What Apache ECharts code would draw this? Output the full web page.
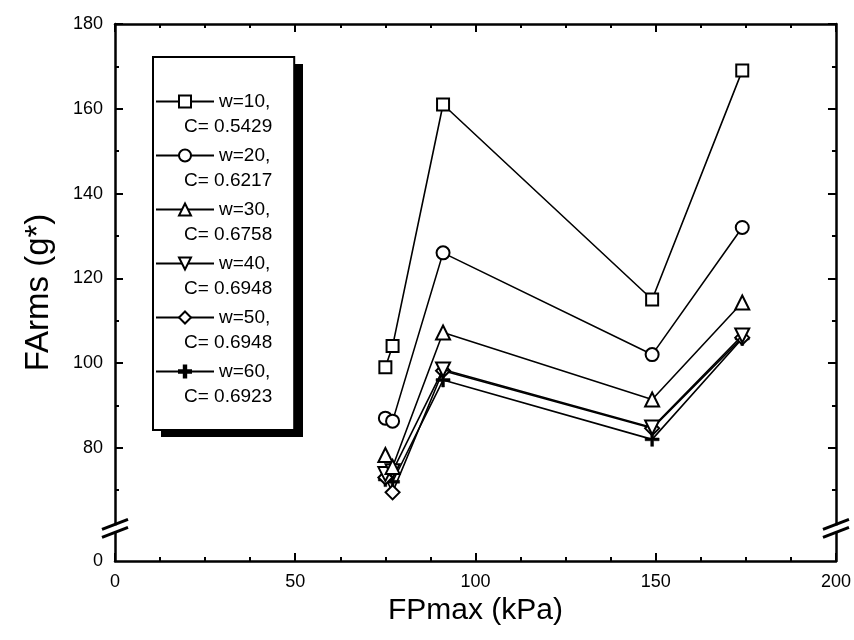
<!DOCTYPE html>
<html>
<head>
<meta charset="utf-8">
<script src="https://cdn.jsdelivr.net/npm/echarts@6/dist/echarts.min.js"></script>
<style>
  html, body { margin: 0; padding: 0; background: #fff; }
  #chart { width: 854px; height: 640px; }
</style>
</head>
<body>
<div id="chart"></div>
<script>
// FPmax (kPa) values shared by every series
const fpMax = [75, 77, 91, 149, 174];

// FArms (g*) for each window size w
const w10 = [99, 104, 161, 115, 169];
const w20 = [87, 86.3, 126, 102, 132];
const w30 = [78.3, 75.5, 107.2, 91.4, 114.3];
const w40 = [73.8, 74.5, 98.5, 84.8, 106.5];
const w50 = [73, 69.5, 98.2, 84.6, 106];
const w60 = [72.5, 72, 96, 82, 105.8];

const windows = [10, 20, 30, 40, 50, 60];
const coeffs = ['0.5429', '0.6217', '0.6758', '0.6948', '0.6948', '0.6923'];
const seriesValues = [w10, w20, w30, w40, w50, w60];

// broken y axis: the bottom of the axis stands for 0
const yFloor = 53.3;
const yBreakAt = 61;
const yLabelTicks = [yFloor, 80, 100, 120, 140, 160, 180];
const yMajorTicks = [80, 100, 120, 140, 160, 180];
const yMinorTicks = [70, 90, 110, 130, 150, 170];

const FONT = '"Liberation Sans", Arial, Helvetica, sans-serif';
const PLUS = 'path://M4,0h2v4h4v2h-4v4h-2v-4h-4v-2h4z';
const symbols = ['rect', 'circle', 'triangle', 'triangle', 'diamond', PLUS];
const rotations = [0, 0, 0, 180, 0, 0];
const sizes = [12, 13, 14, 14, 14, 14];

const chart = echarts.init(document.getElementById('chart'), null, { renderer: 'canvas' });

const series = windows.map((w, i) => ({
  name: 'w=' + w + ',',
  type: 'line',
  xAxisIndex: 0,
  yAxisIndex: 0,
  data: fpMax.map((x, j) => [x, seriesValues[i][j]]),
  symbol: symbols[i],
  symbolRotate: rotations[i],
  symbolSize: sizes[i],
  showAllSymbol: true,
  lineStyle: { color: '#000', width: 1.6 },
  itemStyle: i === 5
    ? { color: '#000', borderColor: '#000', borderWidth: 0.5 }
    : { color: '#fff', borderColor: '#000', borderWidth: 2 },
  emphasis: { disabled: true },
  z: 10 - i
}));

const axisLine = { show: true, lineStyle: { color: '#000', width: 2.5 } };
const tickStyle = { color: '#000', width: 2 };

function yAxisDef(position, ticks, length, showLine, showLabel) {
  return {
    type: 'value',
    position: position,
    min: yFloor,
    max: 180,
    axisLine: showLine ? axisLine : { show: false },
    axisTick: { show: true, inside: true, length: length, lineStyle: tickStyle, customValues: ticks },
    axisLabel: showLabel ? {
      show: true,
      customValues: yLabelTicks,
      fontFamily: FONT,
      fontSize: 18,
      color: '#000',
      margin: 12,
      formatter: v => (Math.abs(v - yFloor) < 1e-6 ? '0' : String(v))
    } : { show: false },
    splitLine: { show: false }
  };
}

const yAxes = [
  Object.assign(yAxisDef('left', yMajorTicks, 8, true, true), {
    name: 'FArms (g*)',
    nameLocation: 'middle',
    nameGap: 60,
    nameTextStyle: { fontFamily: FONT, fontSize: 33, color: '#000' }
  }),
  yAxisDef('left', yMinorTicks, 4, false, false),
  yAxisDef('right', yMajorTicks, 8, true, false),
  yAxisDef('right', yMinorTicks, 4, false, false)
];

function xAxisDef(position, showLabel) {
  return {
    type: 'value',
    position: position,
    min: 0,
    max: 200,
    interval: 50,
    axisLine: axisLine,
    axisTick: { show: true, inside: true, length: 8, lineStyle: tickStyle },
    minorTick: { show: true, splitNumber: 4, length: 4, lineStyle: tickStyle },
    axisLabel: showLabel ? { fontFamily: FONT, fontSize: 18, color: '#000', margin: 12 } : { show: false },
    splitLine: { show: false },
    minorSplitLine: { show: false }
  };
}

const xAxes = [
  Object.assign(xAxisDef('bottom', true), {
    name: 'FPmax (kPa)',
    nameLocation: 'middle',
    nameGap: 33,
    nameTextStyle: { fontFamily: FONT, fontSize: 30, color: '#000' }
  }),
  xAxisDef('top', false)
];

chart.setOption({
  animation: false,
  backgroundColor: '#fff',
  grid: { left: 115, right: 18, top: 24, bottom: 79, containLabel: false },
  xAxis: xAxes,
  yAxis: yAxes,
  legend: {
    show: true,
    z: 6,
    orient: 'vertical',
    left: 153,
    top: 57,
    padding: [7, 22, 21, 2],
    itemGap: -21,
    itemWidth: 58,
    itemHeight: 15,
    selectedMode: false,
    backgroundColor: '#fff',
    borderColor: '#000',
    borderWidth: 2,
    data: series.map(s => s.name),
    formatter: name => {
      const i = series.findIndex(s => s.name === name);
      return '{a|' + name + '}\n{b|C= ' + coeffs[i] + '}';
    },
    textStyle: {
      fontFamily: FONT,
      fontSize: 19,
      color: '#000',
      lineHeight: 25,
      padding: [25, 0, 0, -35],
      rich: {
        a: { fontFamily: FONT, fontSize: 19, color: '#000', lineHeight: 25, padding: [0, 0, 0, 35] },
        b: { fontFamily: FONT, fontSize: 19, color: '#000', lineHeight: 25 }
      }
    }
  },
  series: series
});

// drop shadow behind the legend box and axis break marks on the frame
function decorations() {
  const p0 = chart.convertToPixel({ xAxisIndex: 0, yAxisIndex: 0 }, [0, yBreakAt]);
  const p1 = chart.convertToPixel({ xAxisIndex: 0, yAxisIndex: 0 }, [200, yBreakAt]);
  const items = [{
    type: 'rect',
    shape: { x: 161, y: 64, width: 142, height: 373 },
    style: { fill: '#000' },
    z: 3
  }];
  [p0[0], p1[0]].forEach(x => {
    const y = p0[1];
    items.push({
      type: 'rect',
      shape: { x: x - 3, y: y - 3, width: 6, height: 6 },
      style: { fill: '#fff' },
      z: 100
    });
    [-4, 4].forEach(dy => {
      items.push({
        type: 'line',
        shape: { x1: x - 13, y1: y + dy + 5, x2: x + 13, y2: y + dy - 5 },
        style: { stroke: '#000', lineWidth: 3 },
        z: 101
      });
    });
  });
  chart.setOption({ graphic: { elements: items } });
}
decorations();
</script>
</body>
</html>
